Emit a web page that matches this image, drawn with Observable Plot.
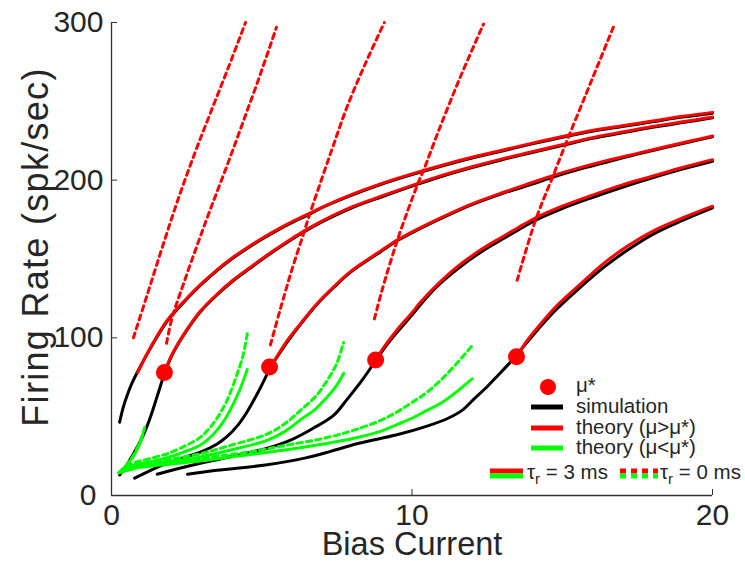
<!DOCTYPE html>
<html><head><meta charset="utf-8">
<script src="https://cdn.jsdelivr.net/npm/d3@7"></script>
<script src="https://cdn.jsdelivr.net/npm/@observablehq/plot@0.6"></script>
<style>
body{margin:0;background:#fff}
#wrap{position:relative;width:745px;height:561px}
#legend{position:absolute;left:0;top:0;pointer-events:none}
</style>
</head><body><div id="wrap"></div>
<script>
// ---------- data (x = bias current, y = firing rate spk/sec) ----------
const xTicks = [0, 10, 20];
const yTicks = [100, 200, 300];

// mu* points
const muStarX = [1.76, 5.26, 8.79, 13.48];
const muStarY = [78, 81.5, 86, 88];

// family 1
const sim1 = [[0.27,46.5],[0.4,56.5],[0.55,65],[0.7,72],[0.87,78.5],[1.3,93.5],[1.85,110.5],[2.5,124.5],[3,134],[3.5,142.5],[4,150],[4.5,156.5],[5,162.5],[5.5,168],[6,173],[6.59,178.5],[7,182.5],[8,190.5],[9,197.5],[10,203.5],[11,209],[12,214],[13,218.5],[14,223],[15.2,228],[16,231],[17,234],[18,237],[19,240],[20,242.5]];
const hi1 = [[0.87,78],[1.3,94],[1.85,111],[2.5,125],[3,134.5],[3.5,143],[4,150.5],[4.5,157],[5,163],[5.5,168.5],[6,173.5],[6.59,179],[7,182.8],[8,191],[9,198],[10,204],[11,209.5],[12,214.5],[13,219],[14,223.5],[15.2,228.5],[16,231.5],[17,234.5],[18,237.5],[19,240.5],[20,243]];
const hi01 = [[0.73,100],[1.2,128],[1.7,158],[2.2,187],[2.75,216],[3.3,243],[3.9,272],[4.46,300]];

// family 2
const sim2 = [[0.27,13],[0.5,19],[0.73,26.5],[1.03,37],[1.3,50],[1.53,63.5],[1.76,77],[2.0,88.5],[2.5,104.5],[2.96,116.5],[3.5,127],[4.07,136.5],[4.6,144],[5.18,152],[5.8,160],[6.39,167],[7,173.5],[8,182.5],[9,189.5],[10.2,197.5],[11,202.5],[12,208],[13,213],[14,217.5],[15.1,222.5],[16,226.5],[17,230],[18,233.5],[19,236.5],[20,239.5]];
const hi2 = [[1.76,78],[2.0,89],[2.5,105],[2.96,117],[3.5,127.5],[4.07,137],[4.6,144.5],[5.18,152.5],[5.8,160.5],[6.39,167.5],[7,174],[8,183],[9,190],[10.2,198],[11,203],[12,208.5],[13,213.5],[14,218],[15.1,223],[16,227],[17,230.5],[18,234],[19,237],[20,240]];
const hi02 = [[1.83,96.5],[2.02,113],[2.3,129],[2.8,156],[3.3,182],[3.86,210],[4.4,238],[4.95,267],[5.49,297]];
const lo2 = [[0.25,14.5],[0.5,19],[0.7,24],[0.9,31],[1.05,39]];
const lo02 = [[0.25,14.5],[0.55,20.5],[0.8,28],[0.98,36],[1.1,43]];

// family 3
const sim3 = [[0.77,11],[1.3,16],[1.86,20.5],[2.4,24],[2.96,27.5],[3.5,32.5],[3.85,37.5],[4.2,44.5],[4.51,53],[4.75,61],[4.96,68.5],[5.26,80],[5.4,84.5],[5.8,96],[6.29,108.5],[6.85,121.5],[7.4,132],[7.95,141.5],[8.95,154.5],[9.55,162],[10.5,171.5],[11.28,178.5],[12,184.5],[13,191.5],[14,197.5],[14.7,202],[15.5,206.5],[16.5,211.5],[17.5,216.5],[18.5,221],[19.3,224.5],[20,227.5]];
const hi3 = [[5.26,81.5],[5.4,85],[5.8,97],[6.29,109],[6.85,122],[7.4,132.5],[7.95,142],[8.95,155],[9.55,162.5],[10.5,172],[11.28,179],[12,185],[13,192],[14,198.5],[14.7,203],[15.5,207.5],[16.5,212.5],[17.5,217],[18.5,221.5],[19.3,225],[20,228]];
const hi03 = [[5.29,95.5],[5.6,117],[6.0,143],[6.39,166],[6.59,178],[7.0,201],[7.4,223],[7.85,247],[8.45,274],[9.08,300]];
const lo3 = [[0.25,14.5],[0.73,19],[1.3,21.5],[1.86,24],[2.4,27.5],[2.96,32],[3.4,39],[3.73,47],[4.05,58],[4.29,68],[4.52,80]];
const lo03 = [[0.25,14.5],[0.73,20.5],[1.3,23.5],[1.86,26.5],[2.4,31],[2.96,37],[3.4,46],[3.73,56],[3.95,65],[4.2,78],[4.38,89],[4.52,103]];

// family 4
const sim4 = [[1.52,13.5],[2.2,17],[2.96,20.5],[4.07,25],[5.18,30],[6.0,35.5],[6.7,42.5],[7.4,51],[7.84,61],[8.39,74.5],[8.79,85.5],[9.1,94],[9.5,103.5],[10,114.5],[10.28,121],[10.8,132],[11.5,143.5],[12.3,154.5],[13,162.5],[13.5,168],[14.1,174.5],[15,182],[16,189],[17,195.5],[18,201.5],[19,207],[20,212]];
const hi4 = [[8.79,86],[9.1,95],[9.5,105],[10,116],[10.28,122.5],[10.8,133],[11.5,145],[12.3,156],[13,164],[13.5,169.5],[14.1,176],[15,183.5],[16,190.5],[17,197],[18,202.5],[19,208],[20,213]];
const hi04 = [[8.75,112],[9.0,130],[9.55,164],[10.2,198],[10.38,206],[10.9,232],[11.6,265],[12.38,299]];
const lo4 = [[0.25,14.5],[0.73,17.5],[2,21.5],[2.96,24.5],[4,29],[5.18,35],[5.8,41],[6.29,48],[6.8,55],[7.18,62.5],[7.5,70],[7.73,77.5]];
const lo04 = [[0.25,14.5],[1,18.5],[2,23],[2.96,26.5],[4,32],[5.18,39],[5.8,46],[6.29,54],[6.8,63],[7.18,73],[7.5,84],[7.72,97]];

// family 5
const sim5 = [[2.53,13.5],[3.5,16],[5.18,19.5],[6.5,24],[7.29,28],[8.2,33],[9.5,38.5],[10.5,44],[11.2,49],[11.7,54.5],[12.05,61],[12.5,69],[12.85,76],[13.2,83],[13.48,89],[13.8,96.5],[14.2,105.5],[14.8,118],[15.6,132],[16.4,145],[17.2,156],[18,165.5],[19,174.5],[20,182.5]];
const hi5 = [[13.48,88],[13.8,97.5],[14.2,107],[14.8,120],[15.6,134],[16.4,147.5],[17.2,158.5],[18,167.5],[19,176],[20,183.5]];
const hi05 = [[13.5,136.5],[14.1,174],[14.7,203],[15.2,227],[15.8,255],[16.25,276],[16.7,297]];
const lo5 = [[0.25,14.5],[1,18],[2,20],[3,22],[4,24.5],[5,27],[6,29.5],[7,32.5],[8,36],[9,41],[9.5,45],[10,49],[10.5,54],[11,59],[11.5,66],[12,74]];
const lo05 = [[0.25,14.5],[1,18.5],[2,21],[3,23.5],[4,26],[5,29],[6,32.5],[7,36],[8,41],[9,48],[9.5,53],[10,59],[10.5,65.5],[11,74],[11.5,84],[12,95]];

// ---------- build tables ----------
function table(kind, list){
  const out = [];
  list.forEach((pts, i) => pts.forEach(([x, y]) => out.push({kind, id: kind + i, x, y})));
  return out;
}
const simRows  = table("sim",  [sim1, sim2, sim3, sim4, sim5]);
const hiRows   = table("hi",   [hi1, hi2, hi3, hi4, hi5]);
const hi0Rows  = table("hi0",  [hi01, hi02, hi03, hi04, hi05]);
const loRows   = table("lo",   [lo2, lo3, lo4, lo5]);
const lo0Rows  = table("lo0",  [lo02, lo03, lo04, lo05]);
const muRows = muStarX.map((x, i) => ({x, y: muStarY[i]}));

const FONT = "'Liberation Sans', Arial, Helvetica, sans-serif";
const AX = "#262626";
const RED = "#ff0000", GREEN = "#00ff00";
const CURVE = "catmull-rom";
const Y_TITLE = "Firing Rate (spk/sec)";

const chart = Plot.plot({
  width: 745, height: 561,
  marginLeft: 111, marginRight: 33, marginTop: 22, marginBottom: 66,
  x: {domain: [0, 20]},
  y: {domain: [0, 300]},
  style: {fontFamily: FONT, background: "white", color: AX},
  marks: [
    Plot.line(simRows, {x: "x", y: "y", z: "id", stroke: "black", strokeWidth: 3, curve: CURVE}),
    Plot.line(lo0Rows, {x: "x", y: "y", z: "id", stroke: GREEN, strokeWidth: 3, strokeDasharray: "5.5,4", curve: CURVE}),
    Plot.line(loRows, {x: "x", y: "y", z: "id", stroke: GREEN, strokeWidth: 3, curve: CURVE}),
    Plot.line(hiRows, {x: "x", y: "y", z: "id", stroke: RED, strokeWidth: 3, curve: CURVE}),
    Plot.line(hi0Rows, {x: "x", y: "y", z: "id", stroke: RED, strokeWidth: 3, strokeDasharray: "5,4.5", curve: CURVE}),
    Plot.dot(muRows, {x: "x", y: "y", r: 8.5, fill: RED, stroke: null}),
    Plot.ruleX([0], {stroke: "#333", strokeWidth: 1.3}),
    Plot.ruleY([0], {stroke: "#333", strokeWidth: 1.3}),
    Plot.axisX({ticks: xTicks, tickSize: -6, tickPadding: 14, fontSize: 30, label: null, stroke: "#333", fill: AX}),
    Plot.axisY({ticks: yTicks, tickSize: -6, tickPadding: 14, fontSize: 30, label: null, stroke: "#333", fill: AX}),
    Plot.axisY({ticks: [0], tickSize: 0, tickPadding: 15, fontSize: 30, label: null, fill: AX}),
    Plot.text(["Bias Current"], {frameAnchor: "bottom", dy: 49, lineAnchor: "middle", fontSize: 32.5, fill: AX}),
    Plot.text([Y_TITLE], {frameAnchor: "left", dx: -75, dy: -12, rotate: -90, lineAnchor: "middle", textAnchor: "middle", fontSize: 36, fill: AX})
  ]
});
// slightly wider tracking for the y title, as in the reference
d3.select(chart).selectAll("text").filter(function(){ return this.textContent === Y_TITLE; })
  .attr("letter-spacing", "1.3px");
document.getElementById("wrap").append(chart);

// ---------- legend overlay ----------
const lg = d3.select("#wrap").append("svg").attr("id", "legend")
  .attr("width", 745).attr("height", 561)
  .style("font-family", FONT).style("font-size", "20.5px").attr("fill", AX);
lg.append("circle").attr("cx", 548).attr("cy", 387).attr("r", 8).attr("fill", RED);
lg.append("text").attr("x", 576).attr("y", 392).text("μ*");
const rowsL = [
  {c: "black", y: 407, t: "simulation"},
  {c: RED, y: 428, t: "theory (μ>μ*)"},
  {c: GREEN, y: 448, t: "theory (μ<μ*)"}
];
rowsL.forEach(r => {
  lg.append("line").attr("x1", 531).attr("x2", 563).attr("y1", r.y).attr("y2", r.y)
    .attr("stroke", r.c).attr("stroke-width", 5);
  lg.append("text").attr("x", 576).attr("y", r.y + 5.5).text(r.t);
});
// tau rows
lg.append("line").attr("x1", 490).attr("x2", 523).attr("y1", 471).attr("y2", 471).attr("stroke", RED).attr("stroke-width", 5);
lg.append("line").attr("x1", 490).attr("x2", 523).attr("y1", 476).attr("y2", 476).attr("stroke", GREEN).attr("stroke-width", 5);
lg.append("line").attr("x1", 620).attr("x2", 658).attr("y1", 471).attr("y2", 471).attr("stroke", RED).attr("stroke-width", 5).attr("stroke-dasharray", "6,5");
lg.append("line").attr("x1", 620).attr("x2", 658).attr("y1", 476).attr("y2", 476).attr("stroke", GREEN).attr("stroke-width", 5).attr("stroke-dasharray", "6,5");
function tau(x, val){
  const t = lg.append("text").attr("x", x).attr("y", 479);
  t.append("tspan").text("τ");
  t.append("tspan").attr("dy", 5).attr("font-size", 15).text("r");
  t.append("tspan").attr("dy", -5).text(" = " + val + " ms");
}
tau(527, 3);
tau(660, 0);
</script>
</body></html>
